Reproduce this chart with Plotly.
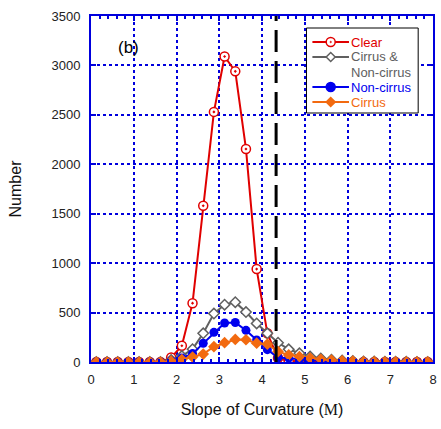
import plotly.graph_objects as go

# Bin centres of the slope-of-curvature histogram (bin width 0.25)
slope = [0.125 + 0.25 * i for i in range(32)]

clear = [0, 0, 0, 0, 0, 0, 0, 45, 165, 595, 1580, 2530, 3090, 2940, 2155, 940,
         290, 40, 10, 5, 2, 0, 0, 0, 0, 0, 0, 0, 0, 0, 0, 0]
cirrus_noncirrus = [0, 0, 0, 0, 0, 0, 0, 20, 60, 130, 290, 490, 580, 605, 505, 390,
                    290, 195, 128, 88, 55, 35, 22, 14, 9, 6, 4, 3, 2, 2, 1, 1]
noncirrus = [0, 0, 0, 0, 0, 0, 0, 12, 40, 85, 190, 300, 395, 400, 320, 222,
             125, 45, 40, 30, 20, 12, 8, 5, 3, 2, 1, 1, 1, 0, 0, 0]
cirrus = [0, 0, 0, 0, 0, 0, 0, 8, 25, 50, 80, 155, 195, 228, 225, 190,
          180, 105, 72, 55, 40, 28, 18, 12, 8, 5, 3, 2, 2, 1, 1, 1]

threshold = 4.33

RED = "#e00000"
GRAY = "#606060"
BLUE = "#0000ee"
ORANGE = "#f26a10"
AXIS_BLUE = "#0000dd"

# plot-area geometry (pixels), used to place the compact legend
PLOT_LEFT, PLOT_BOTTOM, PLOT_SIZE = 91, 362, 346


def px_x(p):
    return (p - PLOT_LEFT) / PLOT_SIZE


def px_y(p):
    return (PLOT_BOTTOM - p) / PLOT_SIZE


fig = go.Figure()

fig.add_trace(go.Scatter(
    x=slope, y=clear, mode="lines+markers", name="Clear",
    line=dict(color=RED, width=2),
    marker=dict(symbol="circle-dot", size=9, color="white",
                line=dict(color=RED, width=1.5)),
))
fig.add_trace(go.Scatter(
    x=slope, y=cirrus_noncirrus, mode="lines+markers", name="Cirrus & Non-cirrus",
    line=dict(color=GRAY, width=2),
    marker=dict(symbol="diamond", size=8, color="white",
                line=dict(color=GRAY, width=1.5)),
))
fig.add_trace(go.Scatter(
    x=slope, y=noncirrus, mode="lines+markers", name="Non-cirrus",
    line=dict(color=BLUE, width=2),
    marker=dict(symbol="circle", size=9, color=BLUE),
))
fig.add_trace(go.Scatter(
    x=slope, y=cirrus, mode="lines+markers", name="Cirrus",
    line=dict(color=ORANGE, width=2),
    marker=dict(symbol="diamond", size=9, color=ORANGE),
))

fig.add_shape(type="line", x0=threshold, x1=threshold, y0=0, y1=3500,
              xref="x", yref="y",
              line=dict(color="black", width=3, dash="22px,9px"))

fig.add_annotation(x=0.87, y=3180, xref="x", yref="y", text="(b)",
                   showarrow=False, font=dict(size=17, color="black"))

# ---- compact legend box (paper coordinates) ----
fig.add_shape(type="rect", xref="paper", yref="paper",
              x0=px_x(309), x1=px_x(422), y0=px_y(113), y1=px_y(28),
              fillcolor="white", line=dict(color="black", width=1))

SAMPLE_X0, SAMPLE_X1, SAMPLE_XM, TEXT_X = px_x(315), px_x(352), px_x(333.5), px_x(353)
DIAMOND = "M 0,{s} L {s},0 L 0,-{s} L -{s},0 Z"


def legend_entry(row_px, color, marker, labels, fill):
    y = px_y(row_px)
    fig.add_shape(type="line", xref="paper", yref="paper",
                  x0=SAMPLE_X0, x1=SAMPLE_X1, y0=y, y1=y,
                  line=dict(color=color, width=2))
    common = dict(xref="paper", yref="paper", xsizemode="pixel", ysizemode="pixel",
                  xanchor=SAMPLE_XM, yanchor=y, fillcolor=fill,
                  line=dict(color=color, width=1.5))
    if marker == "circle":
        fig.add_shape(type="circle", x0=-4.5, x1=4.5, y0=-4.5, y1=4.5, **common)
    elif marker == "circle-dot":
        fig.add_shape(type="circle", x0=-4.5, x1=4.5, y0=-4.5, y1=4.5, **common)
        fig.add_shape(type="circle", x0=-0.8, x1=0.8, y0=-0.8, y1=0.8,
                      **{**common, "fillcolor": color, "line": dict(color=color, width=0.5)})
    else:
        fig.add_shape(type="path", path=DIAMOND.format(s=4.5), **common)
    for text, ty in labels:
        fig.add_annotation(x=TEXT_X, y=px_y(ty), xref="paper", yref="paper", text=text,
                           showarrow=False, xanchor="left", yanchor="middle",
                           borderpad=0, font=dict(size=13, color=color))


legend_entry(42, RED, "circle-dot", [("Clear", 42)], "white")
legend_entry(57, GRAY, "diamond", [("Cirrus &amp;", 57), ("Non-cirrus", 72)], "white")
legend_entry(87, BLUE, "circle", [("Non-cirrus", 87)], BLUE)
legend_entry(102, ORANGE, "diamond", [("Cirrus", 102)], ORANGE)

axis_common = dict(
    showline=True, linecolor=AXIS_BLUE, linewidth=2, mirror="ticks",
    ticks="inside", tickcolor=AXIS_BLUE, ticklen=5, tickwidth=2,
    showgrid=True, gridcolor=AXIS_BLUE, gridwidth=2, griddash="dot",
    zeroline=False, tickfont=dict(size=13, color="#222"),
)

fig.update_xaxes(
    range=[0, 8], dtick=1, tick0=0, ticklabelstandoff=4,
    minor=dict(dtick=0.2, ticks="inside", ticklen=3, tickcolor=AXIS_BLUE,
               tickwidth=1.5, showgrid=False),
    title=dict(text='Slope of Curvature (<span style="font-family:Liberation Serif">M</span>)',
               font=dict(size=16, color="#111"), standoff=18),
    **axis_common,
)
fig.update_yaxes(
    range=[0, 3500], dtick=500, tick0=0, ticklabelstandoff=6,
    title=dict(text="Number", font=dict(size=16, color="#111"), standoff=26),
    **axis_common,
)

fig.update_layout(
    width=441, height=429,
    margin=dict(l=91, r=4, t=16, b=67),
    paper_bgcolor="white", plot_bgcolor="white",
    font=dict(family="Liberation Sans, Arial, sans-serif"),
    showlegend=False,
)

fig.write_html("out.html")
